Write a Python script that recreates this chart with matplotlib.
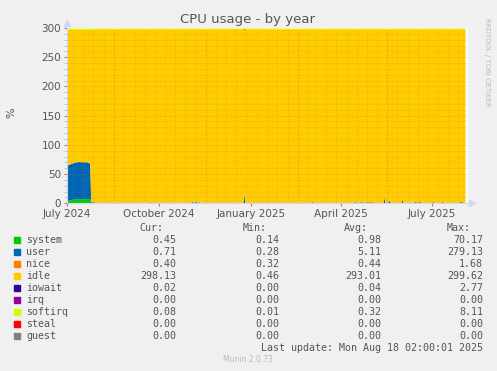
import numpy as np
import pandas as pd
import matplotlib
matplotlib.use('Agg')
import matplotlib.pyplot as plt


# data (one year, 3 cores = 300%)

start_date = pd.Timestamp('2024-07-01')

# sample days, counted from 2024-07-01
days = [0, 4, 8, 12, 16, 20, 23, 24, 26, 30, 40, 50, 82, 83, 84, 100, 124, 125, 127, 129,
        130, 132, 133, 150, 176, 177, 178, 199, 200, 201, 244, 245, 246, 287, 288, 289, 295,
        297, 300, 303, 306, 307, 316, 317, 318, 321, 322, 323, 334, 335, 336, 346, 348, 350,
        353, 354, 365, 366, 367, 374, 375, 376, 391, 393, 395, 396, 398]

system = [5.0, 6.0, 8.0, 8.0, 8.0, 8.0, 7.5, 1.0, 0.8, 0.6, 0.5, 0.5, 0.5, 0.6, 0.5, 0.5, 0.5, 0.6, 0.5, 0.7,
          0.5, 0.6, 0.5, 0.5, 0.5, 1.5, 0.5, 0.5, 0.6, 0.5, 0.5, 0.7, 0.5, 0.5, 0.7, 0.5, 0.5,
          0.5, 0.6, 0.5, 0.6, 0.5, 0.5, 1.0, 0.5, 0.6, 0.8, 0.5, 0.5, 0.8, 0.5, 0.5, 0.6, 0.5,
          0.6, 0.5, 0.5, 0.6, 0.5, 0.5, 0.6, 0.5, 0.5, 0.6, 0.6, 0.5, 0.5]

user = [60.0, 62.0, 62.5, 63.5, 63.0, 63.0, 61.0, 2.0, 1.5, 1.0, 0.8, 0.7, 0.7, 2.5, 0.7, 0.7, 0.7, 2.5, 0.8, 3.0,
        0.8, 2.0, 0.7, 0.7, 0.7, 15.0, 0.7, 0.7, 2.0, 0.7, 0.7, 2.5, 0.7, 0.7, 3.0, 0.7, 1.5,
        0.8, 2.0, 0.8, 2.0, 0.7, 0.7, 9.0, 1.0, 1.5, 5.0, 0.8, 0.7, 6.0, 0.7, 0.7, 2.5, 1.0,
        2.5, 0.7, 0.7, 3.0, 0.7, 0.7, 3.0, 0.7, 0.7, 2.0, 2.0, 0.7, 0.7]

nice = [0.4, 0.4, 0.4, 0.4, 0.4, 0.4, 0.4, 0.6, 0.8, 0.5, 0.4, 0.4, 0.4, 0.4, 0.4, 0.6, 0.4, 0.4, 0.4, 0.5,
        0.4, 0.4, 0.4, 1.0, 0.4, 0.4, 0.4, 0.4, 0.4, 0.4, 0.4, 0.4, 0.4, 0.4, 0.5, 0.4, 1.5,
        0.4, 1.0, 1.5, 0.4, 0.4, 0.4, 0.4, 0.4, 0.4, 0.4, 0.4, 0.4, 0.4, 0.4, 0.4, 0.4, 0.8,
        0.4, 0.4, 0.4, 0.4, 0.4, 0.4, 0.4, 0.4, 0.4, 0.4, 0.4, 0.4, 0.4]

idle = [232.6, 229.6, 227.1, 226.1, 226.6, 226.6, 229.1, 294.8, 295.4, 296.6, 297.1, 297.2, 297.2, 295.3, 297.2,
        297.0, 297.2, 295.3, 297.1, 294.6, 297.1, 295.8, 297.2, 296.6, 297.2, 279.8, 297.2, 297.2,
        295.8, 297.2, 297.2, 295.2, 297.2, 297.2, 294.6, 297.2, 295.3, 297.1, 295.2, 296.0, 295.8,
        297.2, 297.2, 288.3, 296.9, 296.3, 292.6, 297.1, 297.2, 291.6, 297.2, 297.2, 295.3, 296.5,
        295.3, 297.2, 297.2, 294.8, 297.2, 297.2, 294.8, 297.2, 297.2, 295.8, 295.8, 297.2, 297.2]

iowait = [0.0, 0.0, 0.0, 0.0, 0.0, 0.0, 0.0, 0.1, 0.0, 0.0, 0.0, 0.0, 0.0, 0.0, 0.0, 0.0, 0.0, 0.0, 0.0, 0.0,
          0.0, 0.0, 0.0, 0.0, 0.0, 2.0, 0.0, 0.0, 0.0, 0.0, 0.0, 0.0, 0.0, 0.0, 0.0, 0.0, 0.0,
          0.0, 0.0, 0.0, 0.0, 0.0, 0.0, 0.1, 0.0, 0.0, 0.0, 0.0, 0.0, 0.0, 0.0, 0.0, 0.0, 0.0,
          0.0, 0.0, 0.0, 0.0, 0.0, 0.0, 0.0, 0.0, 0.0, 0.0, 0.0, 0.0, 0.0]

softirq = [2.0, 2.0, 2.0, 2.0, 2.0, 2.0, 2.0, 1.5, 1.5, 1.3, 1.2, 1.2, 1.2, 1.2, 1.2, 1.2, 1.2, 1.2, 1.2, 1.2,
           1.2, 1.2, 1.2, 1.2, 1.2, 1.3, 1.2, 1.2, 1.2, 1.2, 1.2, 1.2, 1.2, 1.2, 1.2, 1.2, 1.2,
           1.2, 1.2, 1.2, 1.2, 1.2, 1.2, 1.2, 1.2, 1.2, 1.2, 1.2, 1.2, 1.2, 1.2, 1.2, 1.2, 1.2,
           1.2, 1.2, 1.2, 1.2, 1.2, 1.2, 1.2, 1.2, 1.2, 1.2, 1.2, 1.2, 1.2]

# irq, steal and guest are 0.00 all year
irq = [0.0] * len(days)
steal = [0.0] * len(days)
guest = [0.0] * len(days)

series_names = ['system', 'user', 'nice', 'idle', 'iowait', 'irq', 'softirq', 'steal', 'guest']
series_colors = ['#00CC00', '#0066B3', '#FF8000', '#FFCC00', '#330099', '#990099', '#CCFF00', '#FF0000', '#808080']
series_values = [system, user, nice, idle, iowait, irq, softirq, steal, guest]

# legend table
cur_vals = ['0.45', '0.71', '0.40', '298.13', '0.02', '0.00', '0.08', '0.00', '0.00']
min_vals = ['0.14', '0.28', '0.32', '0.46', '0.00', '0.00', '0.01', '0.00', '0.00']
avg_vals = ['0.98', '5.11', '0.44', '293.01', '0.04', '0.00', '0.32', '0.00', '0.00']
max_vals = ['70.17', '279.13', '1.68', '299.62', '2.77', '0.00', '8.11', '0.00', '0.00']

tick_dates = ['2024-07-01', '2024-10-01', '2025-01-01', '2025-04-01', '2025-07-01']
tick_labels = ['July 2024', 'October 2024', 'January 2025', 'April 2025', 'July 2025']


# figure setup

W, H = 497, 371
bg = '#F0F0F0'
text_col = '#555555'

fig = plt.figure(figsize=(W / 100, H / 100), dpi=100, facecolor=bg)

def px(x, y):
    # pixel position -> figure fraction
    return x / W, 1 - y / H

left, right, top, bottom = 66.7, 468, 28, 203.3
ax = fig.add_axes([left / W, 1 - bottom / H, (right - left) / W, (bottom - top) / H])
ax.set_facecolor('white')

x = np.array([(start_date - start_date).days + d for d in days], dtype=float)

# stacked areas
base = np.zeros(len(days))
for name, col, vals in zip(series_names, series_colors, series_values):
    top_line = base + np.array(vals)
    ax.fill_between(x, base, top_line, color=col, linewidth=0, zorder=2)
    base = top_line

x_end = 401
ax.set_xlim(0, x_end)
ax.set_ylim(0, 300)


# grid (drawn on top like rrdtool)

def day_of(date_str):
    return (pd.Timestamp(date_str) - start_date).days

for yv in range(10, 300, 10):
    if yv % 50 == 0:
        ax.axhline(yv, color='#E06040', alpha=0.55, lw=0.6, ls=(0, (1, 2)), zorder=3)
    else:
        ax.axhline(yv, color='#A08060', alpha=0.45, lw=0.5, ls=(0, (1, 2)), zorder=3)

months = pd.date_range('2024-06-01', '2025-09-01', freq='MS')
for m in months:
    for dd, kind in [(7, 'minor'), (17, 'month'), (27, 'minor')]:
        d = day_of(m + pd.Timedelta(days=dd - 1))
        if d <= 0 or d >= x_end:
            continue
        if kind == 'month' and m.month in (8, 11, 2, 5):
            ax.axvline(d, color='#E04030', alpha=0.55, lw=0.6, ls=(0, (1, 2)), zorder=3)
        elif kind == 'month':
            ax.axvline(d, color='#E08040', alpha=0.55, lw=0.6, ls=(0, (1, 2)), zorder=3)
        else:
            ax.axvline(d, color='#A08060', alpha=0.45, lw=0.5, ls=(0, (1, 2)), zorder=3)


# axes look

for s in ['top', 'right']:
    ax.spines[s].set_visible(False)
for s in ['left', 'bottom']:
    ax.spines[s].set_color('#CFD6F8')
    ax.spines[s].set_linewidth(0.8)

ax.set_yticks(range(0, 301, 50))
ax.set_yticklabels([str(v) for v in range(0, 301, 50)], fontsize=7.5, color=text_col)
ax.set_yticks(range(0, 301, 10), minor=True)
ax.set_xticks([day_of(t) for t in tick_dates])
ax.set_xticklabels(tick_labels, fontsize=7.5, color=text_col)
ax.tick_params(axis='both', which='major', length=2, color='#E06060', pad=2)
ax.tick_params(axis='both', which='minor', length=2, color='#BBBBBB')

# little axis arrows
ax.plot([0], [1.03], marker='^', ms=4, color='#CFD6F8', transform=ax.transAxes, clip_on=False)
ax.plot([1.01], [0], marker='>', ms=4, color='#CFD6F8', transform=ax.transAxes, clip_on=False)


# titles and side texts

fig.text(*px(248, 19), 'CPU usage - by year', ha='center', va='center', fontsize=9.5, color=text_col)
fig.text(*px(11, 113), '%', ha='center', va='center', rotation=90, fontsize=8, color=text_col)
fig.text(*px(487, 18), 'RRDTOOL / TOBI OETIKER', ha='center', va='top', rotation=270,
         fontsize=5, color='#BBBBBB')


# legend table below the graph

mono = 'DejaVu Sans Mono'
fs = 7.2
header_y = 228
fig.text(*px(163, header_y), 'Cur:', ha='right', va='center', fontsize=fs, family=mono, color=text_col)
fig.text(*px(267, header_y), 'Min:', ha='right', va='center', fontsize=fs, family=mono, color=text_col)
fig.text(*px(368, header_y), 'Avg:', ha='right', va='center', fontsize=fs, family=mono, color=text_col)
fig.text(*px(471, header_y), 'Max:', ha='right', va='center', fontsize=fs, family=mono, color=text_col)

for i, name in enumerate(series_names):
    row_y = 240 + i * 12
    fig.patches.append(plt.Rectangle(px(14, row_y + 3), 6 / W, 6 / H, transform=fig.transFigure,
                                     color=series_colors[i], figure=fig))
    fig.text(*px(26, row_y), name, ha='left', va='center', fontsize=fs, family=mono, color=text_col)
    fig.text(*px(176, row_y), cur_vals[i], ha='right', va='center', fontsize=fs, family=mono, color=text_col)
    fig.text(*px(279, row_y), min_vals[i], ha='right', va='center', fontsize=fs, family=mono, color=text_col)
    fig.text(*px(381, row_y), avg_vals[i], ha='right', va='center', fontsize=fs, family=mono, color=text_col)
    fig.text(*px(483, row_y), max_vals[i], ha='right', va='center', fontsize=fs, family=mono, color=text_col)

fig.text(*px(483, 348), 'Last update: Mon Aug 18 02:00:01 2025', ha='right', va='center',
         fontsize=fs, family=mono, color=text_col)
fig.text(*px(248, 360), 'Munin 2.0.73', ha='center', va='center', fontsize=5.5, color='#BBBBBB')

plt.savefig('out.png', dpi=100, facecolor=bg)
print("saved out.png")
